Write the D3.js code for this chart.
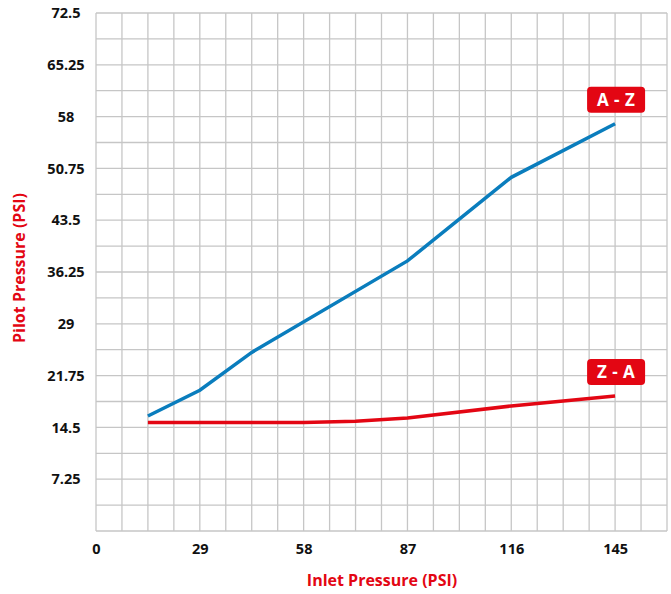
<!DOCTYPE html>
<html>
<head>
<meta charset="utf-8">
<script src="https://cdn.jsdelivr.net/npm/d3@7"></script>
<style>
  body { margin: 0; background: #fff; }
  svg { display: block; font-family: "Open Sans", sans-serif; }
</style>
</head>
<body>
<div id="chart"></div>
<script>
// Pilot vs inlet pressure
const xTicks = [0, 29, 58, 87, 116, 145];
const yTicks = [7.25, 14.5, 21.75, 29, 36.25, 43.5, 50.75, 58, 65.25, 72.5];

const azInlet = [14.5, 29, 43.5, 87, 116, 145];
const azPilot = [16.1, 19.7, 25.0, 37.8, 49.5, 57.0];

const zaInlet = [14.5, 58, 72.5, 87, 116, 145];
const zaPilot = [15.2, 15.2, 15.35, 15.8, 17.5, 18.9];

const seriesNames = ['A - Z', 'Z - A'];

const W = 671, H = 594;
const margin = { top: 13, right: 4, bottom: 63, left: 96 };
const width = W - margin.left - margin.right;
const height = H - margin.top - margin.bottom;

const red = '#e30613';
const blue = '#0a7dbd';

const svg = d3.select('#chart')
    .append('svg')
    .attr('width', W)
    .attr('height', H);

const g = svg.append('g')
    .attr('transform', `translate(${margin.left},${margin.top})`);

const x = d3.scaleLinear().domain([0, 159.5]).range([0, width]);
const y = d3.scaleLinear().domain([0, 72.5]).range([height, 0]);

// grid
g.append('g')
    .selectAll('line')
    .data(d3.range(0, 23).map(i => i * 7.25))
    .enter()
    .append('line')
    .attr('x1', d => x(d)).attr('x2', d => x(d))
    .attr('y1', 0).attr('y2', height)
    .attr('stroke', '#c6c6c6')
    .attr('stroke-width', 1.3);

g.append('g')
    .selectAll('line')
    .data(d3.range(0, 21).map(i => i * 3.625))
    .enter()
    .append('line')
    .attr('x1', 0).attr('x2', width)
    .attr('y1', d => y(d)).attr('y2', d => y(d))
    .attr('stroke', '#c6c6c6')
    .attr('stroke-width', 1.3);

// axes (labels only)
const xAxis = g.append('g')
    .attr('transform', `translate(0,${height})`)
    .call(d3.axisBottom(x).tickValues(xTicks).tickFormat(d => d).tickSize(0).tickPadding(13));
xAxis.select('.domain').remove();
xAxis.selectAll('text')
    .attr('font-family', '"Open Sans", sans-serif')
    .attr('font-size', '14.5px')
    .attr('font-weight', 700)
    .attr('fill', '#111');

const yAxis = g.append('g')
    .call(d3.axisLeft(y).tickValues(yTicks).tickFormat(d => d).tickSize(0).tickPadding(0));
yAxis.select('.domain').remove();
yAxis.selectAll('text')
    .attr('text-anchor', 'middle')
    .attr('x', -30)
    .attr('font-family', '"Open Sans", sans-serif')
    .attr('font-size', '14.5px')
    .attr('font-weight', 700)
    .attr('fill', '#111');

// lines
const line = d3.line().x(d => x(d[0])).y(d => y(d[1]));
const azData = azInlet.map((v, i) => [v, azPilot[i]]);
const zaData = zaInlet.map((v, i) => [v, zaPilot[i]]);

g.append('path')
    .datum(zaData)
    .attr('d', line)
    .attr('fill', 'none')
    .attr('stroke', red)
    .attr('stroke-width', 3.5);

g.append('path')
    .datum(azData)
    .attr('d', line)
    .attr('fill', 'none')
    .attr('stroke', blue)
    .attr('stroke-width', 3.5);

// series tags
const tags = [
    { name: seriesNames[0], last: azData[azData.length - 1] },
    { name: seriesNames[1], last: zaData[zaData.length - 1] }
];
tags.forEach(t => {
    const cx = x(t.last[0]) + 1;
    const cy = y(t.last[1]) - 24;
    const tg = g.append('g').attr('transform', `translate(${cx},${cy})`);
    tg.append('rect')
        .attr('x', -29).attr('y', -13)
        .attr('width', 58).attr('height', 26)
        .attr('rx', 4)
        .attr('fill', red);
    tg.append('text')
        .attr('text-anchor', 'middle')
        .attr('dy', '0.36em')
        .attr('font-size', '17px')
        .attr('font-weight', 700)
        .attr('letter-spacing', '0.5px')
        .attr('fill', '#fff')
        .text(t.name);
});

// axis titles
svg.append('text')
    .attr('x', 382)
    .attr('y', 586)
    .attr('text-anchor', 'middle')
    .attr('font-size', '16px')
    .attr('font-weight', 700)
    .attr('fill', red)
    .text('Inlet Pressure (PSI)');

svg.append('text')
    .attr('transform', `translate(25,268) rotate(-90)`)
    .attr('text-anchor', 'middle')
    .attr('font-size', '16px')
    .attr('font-weight', 700)
    .attr('fill', red)
    .text('Pilot Pressure (PSI)');
</script>
</body>
</html>
